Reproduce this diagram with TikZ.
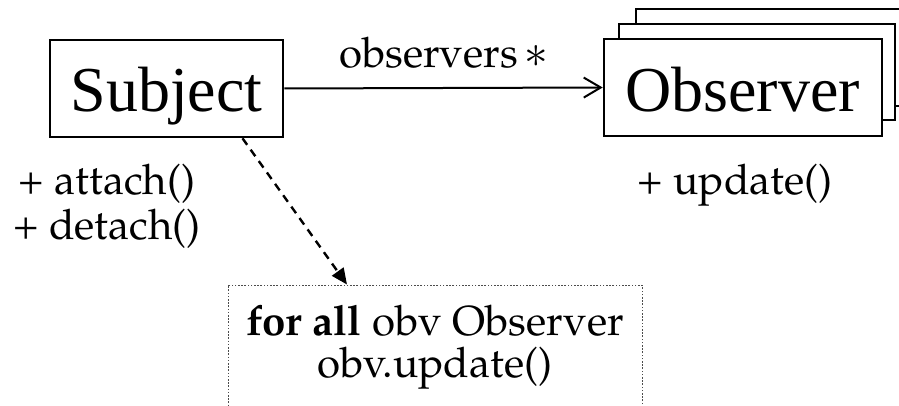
\documentclass[tikz,border=0pt]{standalone}
\usepackage[T1]{fontenc}
\usepackage{fontspec}
\newfontfamily\classfont{Liberation Serif}
\newcommand\palfont{\fontencoding{T1}\fontfamily{ppl}\selectfont}
\usetikzlibrary{arrows.meta,calc}
\tikzset{
  classbox/.style={draw, line width=2.6pt, fill=white, rectangle, inner sep=0pt},
  classname/.style={anchor=base, inner sep=0pt, font=\classfont\fontsize{64}{70}\selectfont},
  member/.style={anchor=base, inner sep=0pt, font=\palfont\fontsize{42}{50}\selectfont},
  notebox/.style={draw=black!70, line width=0.9pt, dash pattern=on 1.6pt off 1.6pt, rectangle, inner sep=0pt},
  assoc/.style={line width=2pt, -{Straight Barb[length=17pt, width=20pt, line width=2pt]}},
  depend/.style={line width=2.4pt, dash pattern=on 8pt off 6pt, -{Triangle[length=16pt, width=14pt]}}
}
\begin{document}
\begin{tikzpicture}[x=1pt, y=-1pt]
\useasboundingbox (0,0) rectangle (899,406);
\clip (0,0) rectangle (899,406);

% Subject class
\node[classbox, minimum width=233pt, minimum height=97pt] (subject) at (166.5,88.5) {};
\node[classname] (subjectname) at (166.5,112) {Subject};
\node[member] (attach) at (107,195) {+ attach()};
\node[member] (detach) at (107,240) {+ detach()};

% Observer class, drawn as a stack of three boxes
\node[classbox, minimum width=278pt, minimum height=97pt] (observer3) at (775,57.5) {};
\node[classbox, minimum width=276pt, minimum height=96pt] (observer2) at (757,72) {};
\node[classbox, minimum width=278pt, minimum height=97pt] (observer) at (743,87.5) {};
\node[classname] (observername) at (742.5,112) {Observer};
\node[member] (update) at (735,195) {+ update()};

% association
\draw[assoc] (subject.east) -- (observer.west);
\node[member, anchor=base west] (assoclabel) at (339,68)
  {observers\hspace{6pt}\scalebox{1.9}{$\ast$}};

% note with the notify loop
\node[notebox, minimum width=414pt, minimum height=150pt] (note) at (435,360) {};
\node[member] (noteline1) at (435,335) {\textbf{for all} obv Observer};
\node[member] (noteline2) at (435,377) {obv.update()};

\draw[depend] ([xshift=76pt]subject.south) -- ([xshift=-88pt]note.north);
\end{tikzpicture}
\end{document}
